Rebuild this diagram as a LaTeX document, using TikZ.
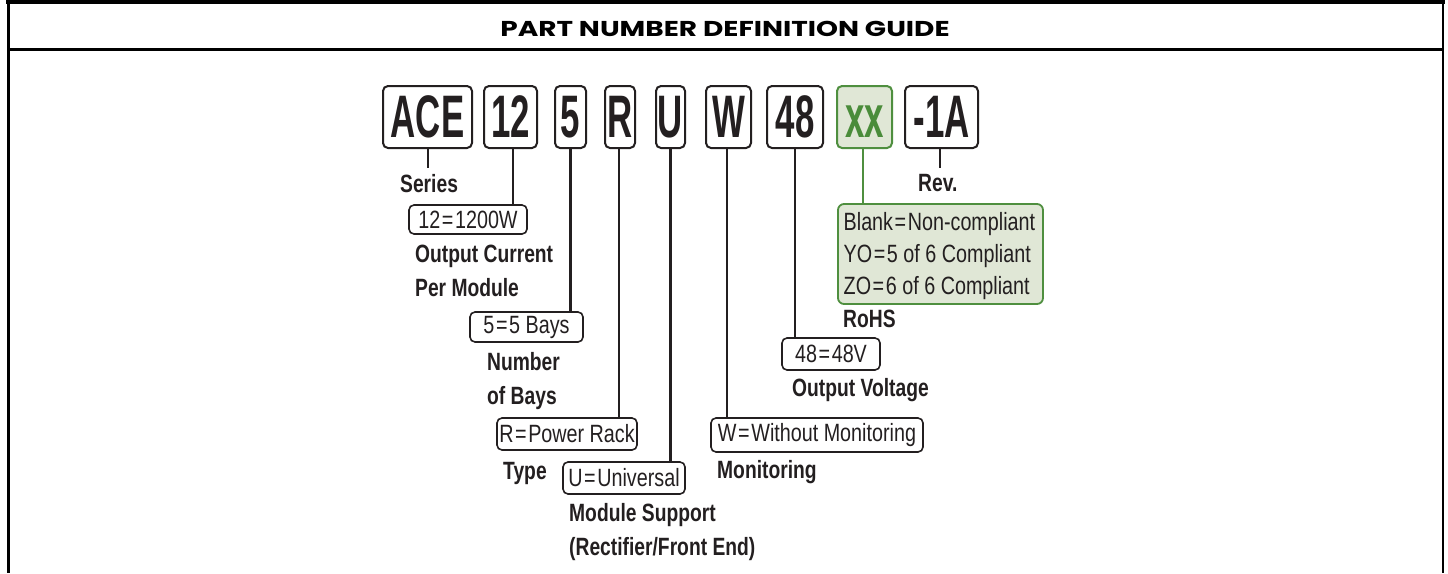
\documentclass[tikz,border=0pt]{standalone}
\usepackage{fontspec}
\setmainfont{Liberation Sans}
\newfontfamily\titlef[FakeStretch=1.3]{Poppins}
\newfontfamily\bigf[FakeStretch=0.58]{Liberation Sans}
\newfontfamily\labf[FakeStretch=0.77]{Liberation Sans}
\newfontfamily\valf[FakeStretch=0.79]{Liberation Sans}
\newcommand{\eqk}{\kern1.6pt=\kern1.6pt}
\definecolor{ink}{HTML}{231F20}
\definecolor{gline}{HTML}{4F8F3F}
\definecolor{gfill}{HTML}{E0E7D6}
\definecolor{gtext}{HTML}{4A8C3A}
\tikzset{
  codebox/.style={draw=ink, line width=2pt, rounded corners=5pt, minimum height=62pt,
    inner sep=0pt, text height=40pt, text depth=0pt,
    font=\bigf\bfseries\fontsize{60}{60}\selectfont, text=ink},
  valbox/.style={draw=ink, line width=1.6pt, rounded corners=5pt, inner sep=0pt,
    font=\valf\fontsize{25}{25}\selectfont, text=ink},
  lab/.style={anchor=north west, inner sep=0pt, align=left, text=ink,
    font=\labf\bfseries\fontsize{25}{34}\selectfont},
  stem/.style={draw=ink, line width=2.6pt},
  gstem/.style={draw=gline, line width=2.6pt},
  frame/.style={draw=black}
}
\begin{document}
\begin{tikzpicture}[x=1pt,y=-1pt]
\useasboundingbox (0,0) rectangle (1448,573);
% frame
\draw[frame, line width=4pt] (6,2) -- (1444.5,2);
\draw[frame, line width=2.8pt] (8.4,0) -- (8.4,573);
\draw[frame, line width=2.8pt] (1443,0) -- (1443,573);
\draw[frame, line width=2.6pt] (8.4,49.5) -- (1443,49.5);
\node[font=\titlef\bfseries\fontsize{21.5}{21.5}\selectfont, inner sep=0pt] (title) at (725,28.5) {PART NUMBER DEFINITION GUIDE};

% code boxes
\node[codebox, minimum width=89pt] (ace) at (427.5,117) {ACE};
\node[codebox, minimum width=53pt] (b12) at (510.5,117) {12};
\node[codebox, minimum width=31pt] (b5) at (570.5,117) {5};
\node[codebox, minimum width=30pt] (bR) at (620,117) {R};
\node[codebox, minimum width=29pt] (bU) at (670.5,117) {U};
\node[codebox, minimum width=45pt] (bW) at (728.5,117) {W};
\node[codebox, minimum width=56pt] (b48) at (795,117) {48};
\node[codebox, minimum width=55pt, draw=gline, fill=gfill, text=gtext] (bxx) at (864.5,117) {xx};
\node[codebox, minimum width=73pt] (brev) at (941.5,117) {-1A};

% value boxes
\node[valbox, minimum width=118pt, minimum height=29pt] (v12) at (468,219.5) {12\eqk1200W};
\node[valbox, minimum width=113pt, minimum height=30pt] (v5) at (526.5,327) {5\eqk5 Bays};
\node[valbox, minimum width=140pt, minimum height=32pt] (vR) at (567,434) {R\eqk Power Rack};
\node[valbox, minimum width=122pt, minimum height=32pt] (vU) at (624,478) {U\eqk Universal};
\node[valbox, minimum width=212pt, minimum height=34pt] (vW) at (817,435) {W\eqk Without Monitoring};
\node[valbox, minimum width=98pt, minimum height=32pt] (v48) at (831,354) {48\eqk48V};
\node[draw=gline, fill=gfill, line width=1.8pt, rounded corners=6pt, minimum width=205pt,
  minimum height=100pt, inner sep=0pt] (vxx) at (940.5,254) {};
\node[anchor=north west, inner sep=0pt, align=left, text=ink,
  font=\valf\fontsize{25}{32}\selectfont] (vxxt) at (843.5,212)
  {Blank\eqk Non-compliant\\YO\eqk5 of 6 Compliant\\ZO\eqk6 of 6 Compliant};

% stems
\coordinate (aceend) at (428,168);
\coordinate (revend) at (940,168);
\coordinate (x12) at (513,0);
\coordinate (xR) at (619,0);
\coordinate (xW) at (727,0);
\coordinate (xxx) at (863,0);
\draw[stem] (ace.south -| aceend) -- (aceend);
\draw[stem] (brev.south -| revend) -- (revend);
\draw[stem] (b12.south -| x12) -- (v12.north -| x12);
\draw[stem] (b5.south) -- (b5.south |- v5.north);
\draw[stem] (bR.south -| xR) -- (vR.north -| xR);
\draw[stem] (bU.south) -- (bU.south |- vU.north);
\draw[stem] (bW.south -| xW) -- (vW.north -| xW);
\draw[stem] (b48.south) -- (b48.south |- v48.north);
\draw[gstem] (bxx.south -| xxx) -- (vxx.north -| xxx);

% labels
\node[lab] (lser) at (400,174) {Series};
\node[lab] (lrev) at (918,174) {Rev.};
\node[lab] (lcur) at (415,245) {Output Current\\Per Module};
\node[lab] (lbay) at (487,352) {Number\\of Bays};
\node[lab] (ltyp) at (503,462) {Type};
\node[lab] (lmod) at (569,503) {Module Support\\(Rectifier/Front End)};
\node[lab] (lmon) at (717,460) {Monitoring};
\node[lab] (lvol) at (792,378) {Output Voltage};
\node[lab] (lroh) at (843,310) {RoHS};
\end{tikzpicture}
\end{document}
